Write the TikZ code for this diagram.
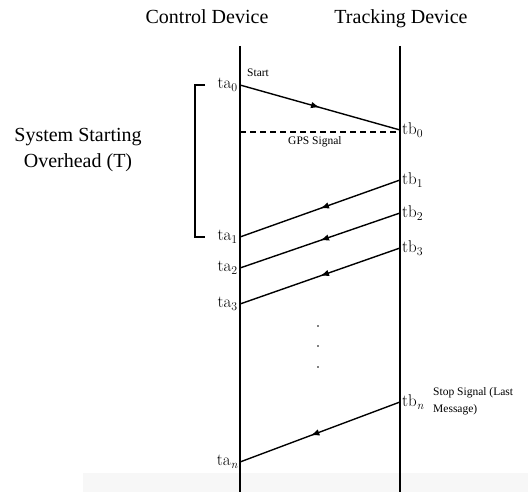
\documentclass[tikz,border=0pt]{standalone}
\usepackage{fontspec}
\setmainfont{Liberation Serif}
\newfontfamily\lmr{Latin Modern Roman}
\usetikzlibrary{arrows.meta,decorations.markings}
\newcommand{\lbl}[2]{{\lmr #1\textsubscript{#2}}}
\tikzset{
  lifeline/.style={line width=1.4pt, black},
  msg/.style={line width=1.4pt, postaction={decorate},
    decoration={markings, mark=at position #1 with {\arrow{Latex[length=9pt,width=6.5pt]}}}},
  msg/.default=0.5,
  title/.style={font=\fontsize{20}{26}\selectfont, anchor=base, inner sep=0pt},
  small/.style={font=\fontsize{11.5}{17}\selectfont, inner sep=0pt, anchor=base west},
  tlabel/.style={font=\fontsize{17}{19}\selectfont, inner sep=2pt},
}
\begin{document}
\begin{tikzpicture}[x=1pt,y=-1pt]
\useasboundingbox (0,0) rectangle (528,492);
\fill[gray!6] (83,473) rectangle (528,492);

% titles
\node[title] (ctl) at (207,24) {Control Device};
\node[title] (trk) at (401,24) {Tracking Device};
\node[title, align=center] (sso) at (78,168) {System Starting\\Overhead (T)};

% lifelines
\coordinate (atop) at (240,46);
\coordinate (abot) at (240,492);
\coordinate (btop) at (400,46);
\coordinate (bbot) at (400,492);
\draw[lifeline] (atop) -- (abot);
\draw[lifeline] (btop) -- (bbot);

% event points
\coordinate (ta0) at (240,85);
\coordinate (ta1) at (240,237);
\coordinate (ta2) at (240,268);
\coordinate (ta3) at (240,304);
\coordinate (tan) at (240,462);
\coordinate (tb0) at (400,130);
\coordinate (tb1) at (400,180);
\coordinate (tb2) at (400,213);
\coordinate (tb3) at (400,248);
\coordinate (tbn) at (400,402);
\coordinate (gpsA) at (240,132);
\coordinate (gpsB) at (400,132);

% labels
\node[tlabel, anchor=east] (lta0) at (ta0) {\lbl{ta}{0}};
\node[tlabel, anchor=east] (lta1) at (ta1) {\lbl{ta}{1}};
\node[tlabel, anchor=east] (lta2) at (ta2) {\lbl{ta}{2}};
\node[tlabel, anchor=east] (lta3) at (ta3) {\lbl{ta}{3}};
\node[tlabel, anchor=east] (ltan) at (tan) {\lbl{ta}{\itshape n}};
\node[tlabel, anchor=west] (ltb0) at (tb0) {\lbl{tb}{0}};
\node[tlabel, anchor=west] (ltb1) at (tb1) {\lbl{tb}{1}};
\node[tlabel, anchor=west] (ltb2) at (tb2) {\lbl{tb}{2}};
\node[tlabel, anchor=west] (ltb3) at (tb3) {\lbl{tb}{3}};
\node[tlabel, anchor=west] (ltbn) at (tbn) {\lbl{tb}{\itshape n}};

\node[small] (start) at (247,77) {Start};
\node[small] (gps) at (288,145) {GPS Signal};
\node[small, align=left] (stop) at (433,412) {Stop Signal (Last\\Message)};

% messages
\draw[msg] (ta0) -- (tb0);
\draw[line width=1.2pt, dash pattern=on 6pt off 4pt] (gpsA) -- (gpsB);
\draw[msg] (tb1) -- (ta1);
\draw[msg] (tb2) -- (ta2);
\draw[msg] (tb3) -- (ta3);
\draw[msg=0.56] (tbn) -- (tan);

% dots
\fill (318,326) circle (0.9);
\fill (318,346) circle (0.9);
\fill (318,367) circle (0.9);

% bracket
\coordinate (brT) at (205,85);
\coordinate (brB) at (205,237);
\draw[line width=1.4pt] (brT) -- (195,85) -- (195,237) -- (brB);
\end{tikzpicture}
\end{document}
